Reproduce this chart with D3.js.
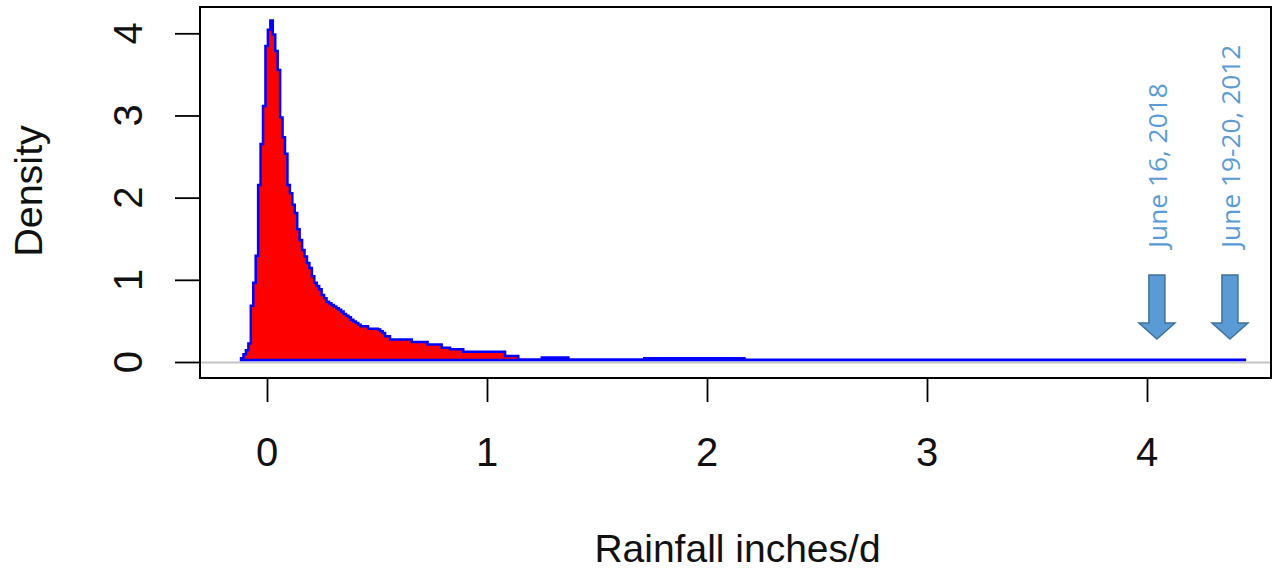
<!DOCTYPE html>
<html>
<head>
<meta charset="utf-8">
<script src="https://cdn.jsdelivr.net/npm/d3@7"></script>
<style>
  body { margin: 0; background: #fff; }
  text { font-family: "Liberation Sans", Arial, sans-serif; }
</style>
</head>
<body>
<div id="chart"></div>
<script>
// histogram: fine bins first, then wider tail segments
var binStart = -0.118,
    binWidth = 0.0111;
var density = [0.02, 0.07, 0.12, 0.20, 0.66, 0.94, 1.27, 2.13, 2.63, 3.09,
               3.82, 4.02, 4.13, 3.96, 3.76, 3.53, 2.95, 2.71, 2.51, 2.13,
               2.03, 1.89, 1.79, 1.59, 1.46, 1.34, 1.26, 1.18, 1.12, 1.02,
               0.94, 0.90, 0.86, 0.79, 0.75, 0.71, 0.69, 0.67, 0.65, 0.63,
               0.61, 0.59, 0.56, 0.54, 0.52, 0.49, 0.47, 0.45, 0.43, 0.41,
               0.41, 0.41, 0.38, 0.38, 0.38, 0.38, 0.37, 0.35, 0.33, 0.29,
               0.29, 0.25, 0.25];
var tailBreaks  = [0.584, 0.658, 0.730, 0.794, 0.832, 0.892, 1.082, 1.142, 1.249, 1.370, 1.715, 2.170, 4.445];
var tailDensity = [0.25, 0.22, 0.19, 0.15, 0.13, 0.10, 0.05, 0.005, 0.03, 0.005, 0.02, 0.004];

var xTicks = [0, 1, 2, 3, 4],
    yTicks = [0, 1, 2, 3, 4];

var annoLabels = ["June 16, 2018", "June 19-20, 2012"],
    annoX = [4.045, 4.377];

var W = 1273, H = 570;
var frame = {left: 200, top: 7, right: 1271, bottom: 378};

var svg = d3.select("#chart").append("svg")
    .attr("width", W)
    .attr("height", H);

svg.append("rect").attr("width", W).attr("height", H).attr("fill", "#fff");

var x = d3.scaleLinear().domain([0, 4]).range([267, 1147]),
    y = d3.scaleLinear().domain([0, 4]).range([362, 33.3]);

// build step outline
var bins = density.map(function(d, i) {
  return {x0: binStart + i * binWidth, x1: binStart + (i + 1) * binWidth, v: d};
});
tailDensity.forEach(function(d, i) {
  bins.push({x0: tailBreaks[i], x1: tailBreaks[i + 1], v: d});
});

var pts = [[bins[0].x0, 0]];
bins.forEach(function(b) {
  pts.push([b.x0, b.v]);
  pts.push([b.x1, b.v]);
});
pts.push([bins[bins.length - 1].x1, 0]);

// zero line
svg.append("line")
    .attr("x1", frame.left).attr("x2", frame.right)
    .attr("y1", y(0) + 0.5).attr("y2", y(0) + 0.5)
    .attr("stroke", "#c4c4c4").attr("stroke-width", 2);

var line = d3.line()
    .x(function(d) { return x(d[0]); })
    .y(function(d) { return y(d[1]) - 2; });

svg.append("path")
    .datum(pts)
    .attr("d", function(d) { return line(d) + "Z"; })
    .attr("fill", "#ff0000")
    .attr("stroke", "#0000ff")
    .attr("stroke-width", 2.5)
    .attr("stroke-linejoin", "miter");

// frame
svg.append("rect")
    .attr("x", frame.left).attr("y", frame.top)
    .attr("width", frame.right - frame.left)
    .attr("height", frame.bottom - frame.top)
    .attr("fill", "none").attr("stroke", "#000").attr("stroke-width", 2);

// axes (tick marks only, labels drawn below)
var gx = svg.append("g")
    .attr("transform", "translate(0," + frame.bottom + ")")
    .call(d3.axisBottom(x).tickValues(xTicks).tickSize(24).tickFormat(""));
gx.select(".domain").remove();
gx.selectAll("line").attr("stroke", "#000").attr("stroke-width", 1.8);

var gy = svg.append("g")
    .attr("transform", "translate(" + frame.left + ",0)")
    .call(d3.axisLeft(y).tickValues(yTicks).tickSize(25).tickFormat(""));
gy.select(".domain").remove();
gy.selectAll("line").attr("stroke", "#000").attr("stroke-width", 1.8);

svg.selectAll(".xlab")
    .data(xTicks)
  .enter().append("text")
    .attr("class", "xlab")
    .attr("x", function(d) { return x(d); })
    .attr("y", 466)
    .attr("text-anchor", "middle")
    .attr("font-size", 40)
    .attr("fill", "#111")
    .text(function(d) { return d; });

svg.selectAll(".ylab")
    .data(yTicks)
  .enter().append("text")
    .attr("class", "ylab")
    .attr("transform", function(d) { return "translate(142," + y(d) + ") rotate(-90)"; })
    .attr("text-anchor", "middle")
    .attr("font-size", 40)
    .attr("fill", "#111")
    .text(function(d) { return d; });

svg.append("text")
    .attr("x", (frame.left + frame.right) / 2 + 2)
    .attr("y", 562)
    .attr("text-anchor", "middle")
    .attr("font-size", 39)
    .attr("fill", "#111")
    .text("Rainfall inches/d");

svg.append("text")
    .attr("transform", "translate(42,191) rotate(-90)")
    .attr("text-anchor", "middle")
    .attr("font-size", 39.5)
    .attr("fill", "#111")
    .text("Density");

// annotations
var anno = svg.selectAll(".anno")
    .data(annoLabels)
  .enter().append("g")
    .attr("class", "anno")
    .attr("transform", function(d, i) { return "translate(" + x(annoX[i]) + ",0)"; });

anno.append("path")
    .attr("d", "M-8,275 L8,275 L8,323 L18,323 L0,339 L-18,323 L-8,323 Z")
    .attr("fill", "#5b9bd5")
    .attr("stroke", "#41719c")
    .attr("stroke-width", 1.5);

anno.append("text")
    .attr("transform", "translate(1,248) rotate(-90)")
    .attr("text-anchor", "start")
    .attr("dy", "0.36em")
    .style("font-family", "'Open Sans', sans-serif")
    .attr("font-size", 26.3)
    .attr("fill", "#5b9bd5")
    .text(function(d) { return d; });
</script>
</body>
</html>
